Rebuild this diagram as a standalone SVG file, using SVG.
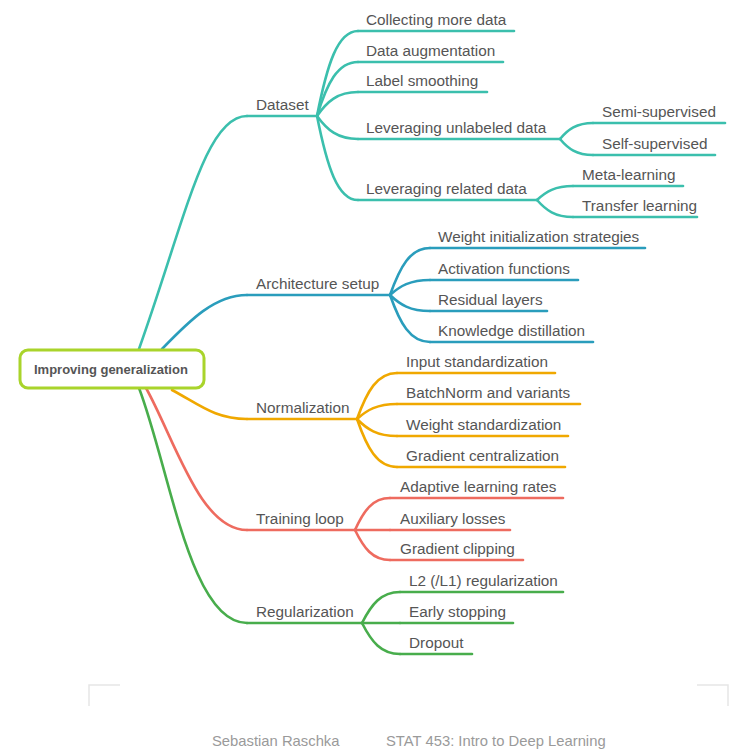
<svg xmlns="http://www.w3.org/2000/svg" width="745" height="756" viewBox="0 0 745 756">
<style>
text{font-family:"Liberation Sans",Arial,sans-serif;font-size:15.3px;fill:#555555}
.root{font-size:13px;font-weight:bold;fill:#555555}
.foot{font-size:14.8px;fill:#9a9a9a}
path,line{fill:none;stroke-width:2.6;stroke-linecap:round}
.t{stroke:#3bbfad}.b{stroke:#2a9dbc}.o{stroke:#f0a800}.r{stroke:#ee6b5f}.g{stroke:#48ad4c}
.br{stroke:#e6e6e6;stroke-width:1.5;stroke-linecap:butt}
</style>
<rect width="745" height="756" fill="#ffffff"/>
<g id="connectors">
<path class="t" d="M139,349 C185,220 205,116 247,116"/>
<path class="b" d="M162,349 C190,320 215,295 247,295"/>
<path class="o" d="M172,390 C200,405 215,419 247,419"/>
<path class="r" d="M146,388 C175,440 200,530 247,530"/>
<path class="g" d="M139,388 C170,470 190,623 247,623"/>
<path class="t" d="M317,116 C327,65 337.5,31 358,31"/>
<path class="t" d="M317,116 C327,83.6 337.5,62 358,62"/>
<path class="t" d="M317,116 C327,101.6 337.5,92 358,92"/>
<path class="t" d="M317,116 C327,129.8 337.5,139 358,139"/>
<path class="t" d="M317,116 C327,166.4 337.5,200 358,200"/>
<path class="t" d="M560,139 C568,129.4 576.5,123 593,123"/>
<path class="t" d="M560,139 C568,148.6 576.5,155 593,155"/>
<path class="t" d="M537,200 C546,191.6 555,186 573,186"/>
<path class="t" d="M537,200 C546,210.2 555,217 573,217"/>
<path class="b" d="M390,295 C400,266.8 410,248 430,248"/>
<path class="b" d="M390,295 C400,286 410,280 430,280"/>
<path class="b" d="M390,295 C400,304.6 410,311 430,311"/>
<path class="b" d="M390,295 C400,323.2 410,342 430,342"/>
<path class="o" d="M357,419 C367,391.4 377,373 397,373"/>
<path class="o" d="M357,419 C367,410 377,404 397,404"/>
<path class="o" d="M357,419 C367,429.2 377,436 397,436"/>
<path class="o" d="M357,419 C367,447.8 377,467 397,467"/>
<path class="r" d="M355,530 C363.75,510.8 372.5,498 390,498"/>
<path class="r" d="M355,530 L390,530"/>
<path class="r" d="M355,530 C363.75,548 372.5,560 390,560"/>
<path class="g" d="M362,623 C371.5,604.4 381,592 400,592"/>
<path class="g" d="M362,623 L400,623"/>
<path class="g" d="M362,623 C371.5,641.6 381,654 400,654"/>
</g>
<g id="root">
<rect x="20" y="350" width="184" height="38" rx="8" fill="#ffffff" stroke="#a9d42b" stroke-width="3"/>
<text class="root" x="34" y="374">Improving generalization</text>
</g>
<g id="dataset"><path class="t" d="M247,116 H317"/><text x="256" y="110">Dataset</text></g>
<g id="collecting"><path class="t" d="M358,31 H514"/><text x="366" y="25">Collecting more data</text></g>
<g id="augmentation"><path class="t" d="M358,62 H503"/><text x="366" y="56">Data augmentation</text></g>
<g id="smoothing"><path class="t" d="M358,92 H487"/><text x="366" y="86">Label smoothing</text></g>
<g id="unlabeled"><path class="t" d="M358,139 H560"/><text x="366" y="133">Leveraging unlabeled data</text></g>
<g id="semi"><path class="t" d="M593,123 H725"/><text x="602" y="117">Semi-supervised</text></g>
<g id="self"><path class="t" d="M593,155 H715"/><text x="602" y="149">Self-supervised</text></g>
<g id="related"><path class="t" d="M358,200 H537"/><text x="366" y="194">Leveraging related data</text></g>
<g id="meta"><path class="t" d="M573,186 H683"/><text x="582" y="180">Meta-learning</text></g>
<g id="transfer"><path class="t" d="M573,217 H697"/><text x="582" y="211">Transfer learning</text></g>
<g id="architecture"><path class="b" d="M247,295 H390"/><text x="256" y="289">Architecture setup</text></g>
<g id="weightinit"><path class="b" d="M430,248 H645"/><text x="438" y="242">Weight initialization strategies</text></g>
<g id="activation"><path class="b" d="M430,280 H578"/><text x="438" y="274">Activation functions</text></g>
<g id="residual"><path class="b" d="M430,311 H547"/><text x="438" y="305">Residual layers</text></g>
<g id="distillation"><path class="b" d="M430,342 H593"/><text x="438" y="336">Knowledge distillation</text></g>
<g id="normalization"><path class="o" d="M247,419 H357"/><text x="256" y="413">Normalization</text></g>
<g id="inputstd"><path class="o" d="M397,373 H555"/><text x="406" y="367">Input standardization</text></g>
<g id="batchnorm"><path class="o" d="M397,404 H580"/><text x="406" y="398">BatchNorm and variants</text></g>
<g id="weightstd"><path class="o" d="M397,436 H568"/><text x="406" y="430">Weight standardization</text></g>
<g id="gradcent"><path class="o" d="M397,467 H565"/><text x="406" y="461">Gradient centralization</text></g>
<g id="training"><path class="r" d="M247,530 H355"/><text x="256" y="524">Training loop</text></g>
<g id="adaptive"><path class="r" d="M390,498 H563"/><text x="400" y="492">Adaptive learning rates</text></g>
<g id="auxiliary"><path class="r" d="M390,530 H510"/><text x="400" y="524">Auxiliary losses</text></g>
<g id="clipping"><path class="r" d="M390,560 H523"/><text x="400" y="554">Gradient clipping</text></g>
<g id="regularization"><path class="g" d="M247,623 H362"/><text x="256" y="617">Regularization</text></g>
<g id="l2"><path class="g" d="M400,592 H563"/><text x="409" y="586">L2 (/L1) regularization</text></g>
<g id="early"><path class="g" d="M400,623 H513"/><text x="409" y="617">Early stopping</text></g>
<g id="dropout"><path class="g" d="M400,654 H472"/><text x="409" y="648">Dropout</text></g>
<g id="footer">
<path class="br" d="M89,706 V685 H120"/>
<path class="br" d="M697,685 H728 V706"/>
<text class="foot" x="212" y="746">Sebastian Raschka</text>
<text class="foot" x="386" y="746">STAT 453: Intro to Deep Learning</text>
</g>
</svg>
